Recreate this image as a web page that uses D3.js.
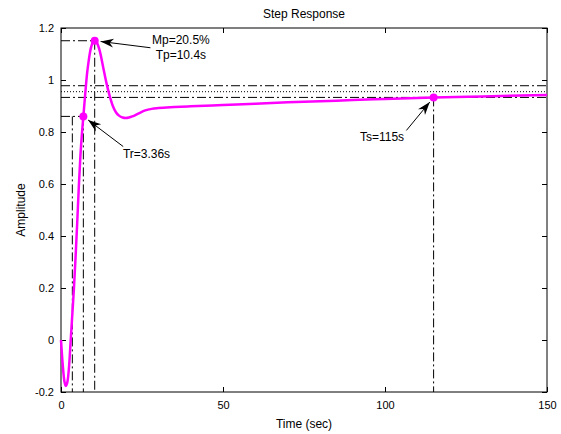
<!DOCTYPE html>
<html>
<head>
<meta charset="utf-8">
<script src="https://cdn.jsdelivr.net/npm/d3@7"></script>
<style>
  body { margin: 0; background: #fff; }
  text { font-family: Arial, "Liberation Sans", sans-serif; fill: #000; }
</style>
</head>
<body>
<svg id="chart" width="561" height="434"></svg>
<script>
// step response samples
const time = [0, 0.5, 1, 1.5, 2, 2.5, 3, 3.5, 4, 4.5, 5, 5.5, 6, 6.5, 6.9, 7.5, 8, 8.5, 9, 9.5, 10, 10.4,
  11, 12, 13, 14, 15, 16, 17, 18, 19, 20, 21, 22, 24, 26, 28, 30, 35, 40, 50, 60, 70, 80, 90, 100, 115, 130, 150];
const amplitude = [0, -0.09, -0.155, -0.177, -0.16, -0.1, 0.0, 0.1, 0.2, 0.32, 0.45, 0.59, 0.71, 0.8, 0.86, 0.95, 1.02, 1.07, 1.11, 1.135, 1.148, 1.151,
  1.145, 1.11, 1.05, 0.99, 0.94, 0.9, 0.875, 0.862, 0.856, 0.854, 0.856, 0.86, 0.872, 0.883, 0.889, 0.892, 0.896, 0.899, 0.904, 0.909, 0.914, 0.918, 0.923, 0.927, 0.933, 0.937, 0.942];

const xTicks = [0, 50, 100, 150];
const yTicks = [-0.2, 0, 0.2, 0.4, 0.6, 0.8, 1, 1.2];

// step characteristics
const finalValue = 0.955;
const band = [0.978, 0.933];
const peakPoint = [10.4, 1.151];
const riseTimes = [3.5, 6.9];
const riseLevel = 0.86;
const settlePoint = [115, 0.933];

// annotation text + arrow tails (data coords)
const labels = [
  { lines: ["Mp=20.5%", "Tp=10.4s"], at: [37, 1.138], anchor: "middle", tail: [27.6, 1.124], tip: peakPoint },
  { lines: ["Tr=3.36s"], at: [19.1, 0.7], anchor: "start", tail: [19.2, 0.744], tip: [riseTimes[1], riseLevel] },
  { lines: ["Ts=115s"], at: [105.9, 0.765], anchor: "end", tail: [106.6, 0.806], tip: settlePoint }
];

const svg = d3.select("#chart");
const mLeft = 61, mRight = 547, mTop = 28, mBottom = 392;

const x = d3.scaleLinear().domain([0, 150]).range([mLeft, mRight]);
const y = d3.scaleLinear().domain([-0.2, 1.2]).range([mBottom, mTop]);

// axes box
svg.append("rect")
  .attr("x", mLeft).attr("y", mTop)
  .attr("width", mRight - mLeft).attr("height", mBottom - mTop)
  .attr("fill", "#fff").attr("stroke", "#000").attr("stroke-width", 1);

function fmt(v) { return String(+v.toFixed(1)); }

const xAxisB = svg.append("g").attr("transform", `translate(0,${mBottom})`)
  .call(d3.axisBottom(x).tickValues(xTicks).tickSizeInner(-5).tickSizeOuter(0).tickPadding(9).tickFormat(fmt));
const xAxisT = svg.append("g").attr("transform", `translate(0,${mTop})`)
  .call(d3.axisTop(x).tickValues(xTicks).tickSizeInner(-5).tickSizeOuter(0).tickFormat(""));
const yAxisL = svg.append("g").attr("transform", `translate(${mLeft},0)`)
  .call(d3.axisLeft(y).tickValues(yTicks).tickSizeInner(-5).tickSizeOuter(0).tickPadding(7).tickFormat(fmt));
const yAxisR = svg.append("g").attr("transform", `translate(${mRight},0)`)
  .call(d3.axisRight(y).tickValues(yTicks).tickSizeInner(-5).tickSizeOuter(0).tickFormat(""));

[xAxisB, xAxisT, yAxisL, yAxisR].forEach(function (g) {
  g.select(".domain").remove();
  g.selectAll("line").attr("stroke", "#000");
  g.selectAll("text").attr("font-size", 11).attr("font-family", "Arial, 'Liberation Sans', sans-serif");
});

// characteristic guide lines
const dashDot = "9,3,2,3";
function guide(x1, y1, x2, y2, dash) {
  svg.append("line")
    .attr("x1", x(x1)).attr("y1", y(y1)).attr("x2", x(x2)).attr("y2", y(y2))
    .attr("stroke", "#000").attr("stroke-width", 1)
    .attr("stroke-dasharray", dash);
}
guide(0, band[0], 150, band[0], dashDot);
guide(0, band[1], 150, band[1], dashDot);
guide(0, finalValue, 150, finalValue, "1,2");
guide(0, peakPoint[1], peakPoint[0], peakPoint[1], dashDot);
guide(peakPoint[0], peakPoint[1], peakPoint[0], -0.2, dashDot);
guide(0, riseLevel, riseTimes[1], riseLevel, dashDot);
guide(riseTimes[0], riseLevel, riseTimes[0], -0.2, dashDot);
guide(riseTimes[1], riseLevel, riseTimes[1], -0.2, dashDot);
guide(settlePoint[0], settlePoint[1], settlePoint[0], -0.2, dashDot);

// response curve
const line = d3.line()
  .x(function (d, i) { return x(time[i]); })
  .y(function (d) { return y(d); })
  .curve(d3.curveMonotoneX);

svg.append("path")
  .datum(amplitude)
  .attr("d", line)
  .attr("fill", "none")
  .attr("stroke", "#ff00ff")
  .attr("stroke-width", 2.5);

// markers
svg.selectAll("circle.mark")
  .data([peakPoint, [riseTimes[1], riseLevel], settlePoint])
  .enter()
  .append("circle")
  .attr("class", "mark")
  .attr("cx", function (d) { return x(d[0]); })
  .attr("cy", function (d) { return y(d[1]); })
  .attr("r", 4)
  .attr("fill", "#ff00ff");

// annotations
labels.forEach(function (lab) {
  const t = svg.append("text")
    .attr("x", x(lab.at[0])).attr("y", y(lab.at[1]))
    .attr("text-anchor", lab.anchor)
    .attr("font-size", 12);
  lab.lines.forEach(function (s, i) {
    t.append("tspan").attr("x", x(lab.at[0])).attr("dy", i == 0 ? 0 : 15).text(s);
  });

  const x0 = x(lab.tail[0]), y0 = y(lab.tail[1]);
  let x1 = x(lab.tip[0]), y1 = y(lab.tip[1]);
  const a = Math.atan2(y1 - y0, x1 - x0);
  x1 -= 6 * Math.cos(a); y1 -= 6 * Math.sin(a);

  svg.append("line")
    .attr("x1", x0).attr("y1", y0).attr("x2", x1).attr("y2", y1)
    .attr("stroke", "#000").attr("stroke-width", 1);

  const L = 13, W = 9;
  const pts = [[0, 0], [-L, -W / 2], [-L * 0.7, 0], [-L, W / 2]].map(function (p) {
    return [x1 + p[0] * Math.cos(a) - p[1] * Math.sin(a), y1 + p[0] * Math.sin(a) + p[1] * Math.cos(a)];
  });
  svg.append("path")
    .attr("d", "M" + pts.join("L") + "Z")
    .attr("fill", "#000");
});

// titles
svg.append("text").attr("x", (mLeft + mRight) / 2).attr("y", 18)
  .attr("text-anchor", "middle").attr("font-size", 12).text("Step Response");
svg.append("text").attr("x", (mLeft + mRight) / 2).attr("y", 428)
  .attr("text-anchor", "middle").attr("font-size", 12).text("Time (sec)");
svg.append("text").attr("transform", `translate(25,${(mTop + mBottom) / 2}) rotate(-90)`)
  .attr("text-anchor", "middle").attr("font-size", 12).text("Amplitude");
</script>
</body>
</html>
